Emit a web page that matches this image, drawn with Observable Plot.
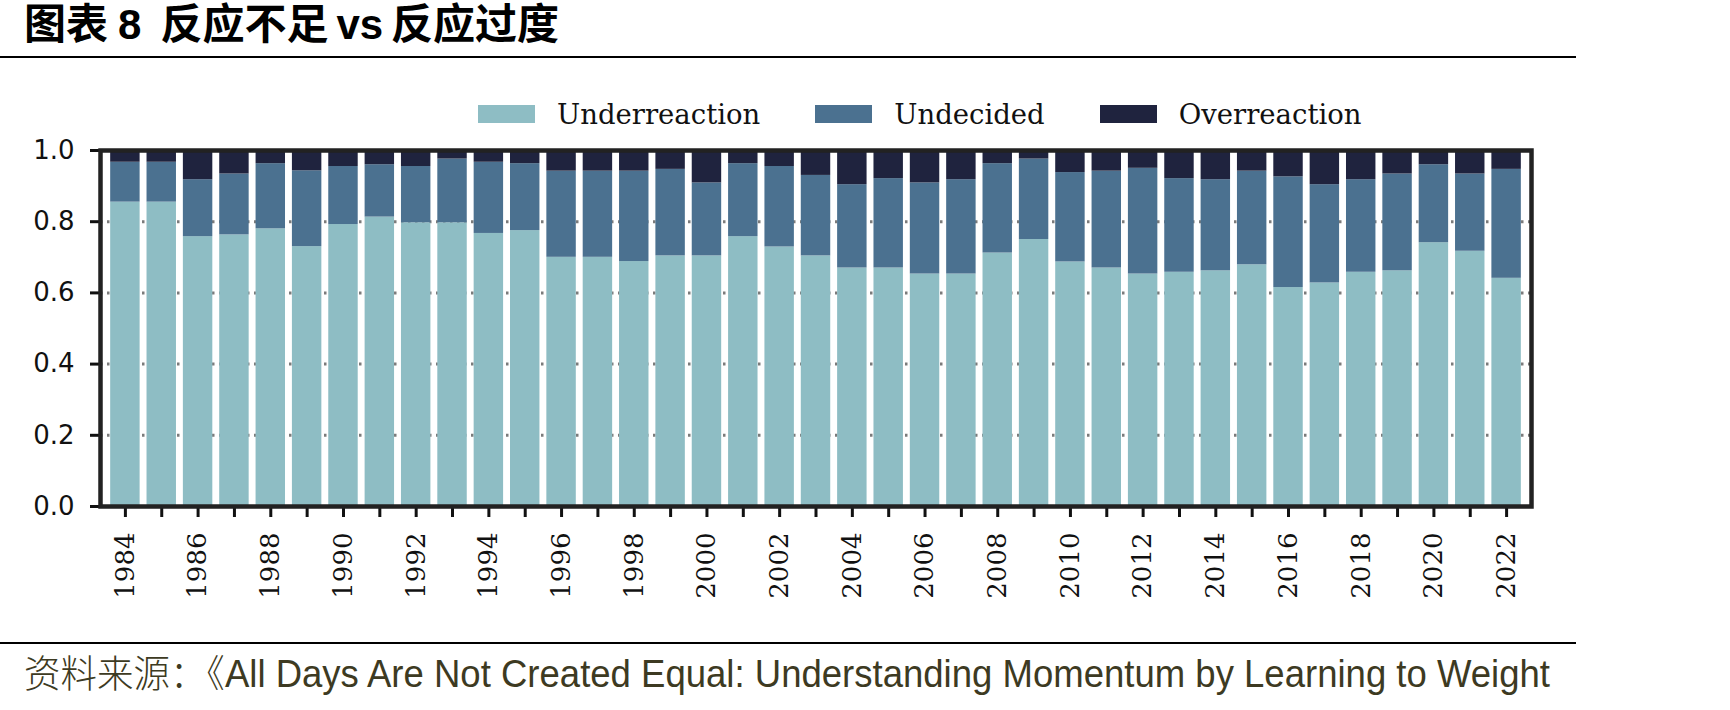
<!DOCTYPE html>
<html>
<head>
<meta charset="utf-8">
<script src="https://cdn.jsdelivr.net/npm/d3@7"></script>
<script src="https://cdn.jsdelivr.net/npm/@observablehq/plot@0.6"></script>
<style>
  html, body { margin: 0; padding: 0; background: #fff; }
  body { width: 1730px; height: 710px; position: relative; overflow: hidden; }
  .title { position: absolute; left: 24px; top: 2px; font-size: 42px; font-weight: bold; color: #000; white-space: nowrap;
           font-family: "Liberation Sans", "Noto Sans CJK SC", sans-serif; line-height: 46px; }
  .rule { position: absolute; left: 0; width: 1576px; height: 2px; background: #000; }
  .legend { position: absolute; left: 478px; top: 98px; display: flex; align-items: center; gap: 55px;
            font-family: "DejaVu Serif", serif; font-size: 27.5px; color: #111; }
  .legend .item { display: flex; align-items: center; gap: 22px; }
  .legend .sw { width: 57px; height: 18px; display: inline-block; }
  #chart { position: absolute; left: 0; top: 130px; }
  .footer { position: absolute; left: 24px; top: 652px; white-space: nowrap; font-size: 38px; color: #3d3a22;
            font-family: "Liberation Sans", "Noto Sans CJK SC", sans-serif; transform-origin: 0 0; line-height: 44px; }
  .footer .cn { font-weight: 300; }
</style>
</head>
<body>
<div class="title">图表<span style="margin-left:10px">8</span><span style="margin-left:19px">反应不足</span><span style="margin-left:8px">vs</span><span style="margin-left:8px">反应过度</span></div>
<div class="rule" style="top:56px"></div>
<div class="legend" id="legend"></div>
<div id="chart"></div>
<div class="rule" style="top:642px"></div>
<div class="footer" id="footer"><span class="cn">资料来源：《</span>All Days Are Not Created Equal: Understanding Momentum by Learning to Weight</div>
<script>
// Years on the horizontal axis
const years = [1984, 1985, 1986, 1987, 1988, 1989, 1990, 1991, 1992, 1993,
               1994, 1995, 1996, 1997, 1998, 1999, 2000, 2001, 2002, 2003,
               2004, 2005, 2006, 2007, 2008, 2009, 2010, 2011, 2012, 2013,
               2014, 2015, 2016, 2017, 2018, 2019, 2020, 2021, 2022];

// Share of each reaction type per year (stacked bottom to top)
const underreaction = [0.855, 0.855, 0.758, 0.763, 0.780, 0.730, 0.792, 0.813, 0.797, 0.797,
                       0.767, 0.775, 0.700, 0.700, 0.688, 0.704, 0.704, 0.758, 0.729, 0.704,
                       0.670, 0.670, 0.653, 0.653, 0.712, 0.750, 0.687, 0.670, 0.653, 0.658,
                       0.662, 0.679, 0.615, 0.628, 0.658, 0.662, 0.741, 0.717, 0.641];
const undecided =     [0.112, 0.112, 0.160, 0.171, 0.183, 0.213, 0.163, 0.147, 0.158, 0.179,
                       0.200, 0.188, 0.242, 0.242, 0.254, 0.243, 0.205, 0.205, 0.226, 0.226,
                       0.234, 0.251, 0.256, 0.265, 0.251, 0.226, 0.251, 0.272, 0.297, 0.263,
                       0.256, 0.263, 0.311, 0.276, 0.260, 0.272, 0.219, 0.217, 0.306];
const overreaction =  [0.033, 0.033, 0.082, 0.066, 0.037, 0.057, 0.045, 0.040, 0.045, 0.024,
                       0.033, 0.037, 0.058, 0.058, 0.058, 0.053, 0.091, 0.037, 0.045, 0.070,
                       0.096, 0.079, 0.091, 0.082, 0.037, 0.024, 0.062, 0.058, 0.050, 0.079,
                       0.082, 0.058, 0.074, 0.096, 0.082, 0.066, 0.040, 0.066, 0.053];

const groups = ["Underreaction", "Undecided", "Overreaction"];
const colors = ["#8ebdc4", "#4b7190", "#1f233e"];
const yTicks = [0, 0.2, 0.4, 0.6, 0.8, 1.0];
const gridTicks = [0.2, 0.4, 0.6, 0.8];

const series = [underreaction, undecided, overreaction];
const rows = years.flatMap((year, i) =>
  groups.map((group, g) => ({year, group, value: series[g][i]})));

const chart = Plot.plot({
  width: 1730,
  height: 490,
  marginTop: 20,
  marginBottom: 114,
  marginLeft: 100,
  marginRight: 199,
  style: {background: "#fff", overflow: "visible"},
  x: {type: "band", domain: years, paddingInner: 0.19, paddingOuter: 0.28, round: false, axis: null},
  y: {domain: [0, 1], axis: null},
  color: {domain: groups, range: colors},
  marks: [
    Plot.gridY(gridTicks, {stroke: "#7b7b7b", strokeOpacity: 1, strokeWidth: 3, strokeDasharray: "2.5,4.5"}),
    Plot.barY(rows, {x: "year", y: "value", fill: "group"}),
    Plot.axisY({
      ticks: yTicks, tickFormat: d => d.toFixed(1), tickSize: 10, tickPadding: 16,
      strokeWidth: 3, color: "#111", fontSize: 26, fontFamily: "DejaVu Sans", label: null
    }),
    Plot.axisX({
      tickSize: 11, tickPadding: 15, tickRotate: -90,
      tickFormat: d => (d % 2 === 0 ? String(d) : ""),
      strokeWidth: 3, color: "#111", fontSize: 26, fontFamily: "DejaVu Serif", label: null
    }),
    Plot.frame({stroke: "#222", strokeWidth: 4.5})
  ]
});
document.getElementById("chart").appendChild(chart);

// Legend row
const legend = document.getElementById("legend");
groups.forEach((g, i) => {
  const item = document.createElement("div");
  item.className = "item";
  const sw = document.createElement("span");
  sw.className = "sw";
  sw.style.background = colors[i];
  const label = document.createElement("span");
  label.textContent = g;
  item.append(sw, label);
  legend.appendChild(item);
});

// Source line is set in a condensed width
const footer = document.getElementById("footer");
const w = footer.getBoundingClientRect().width;
footer.style.transform = `scaleX(${1526 / w})`;
</script>
</body>
</html>
